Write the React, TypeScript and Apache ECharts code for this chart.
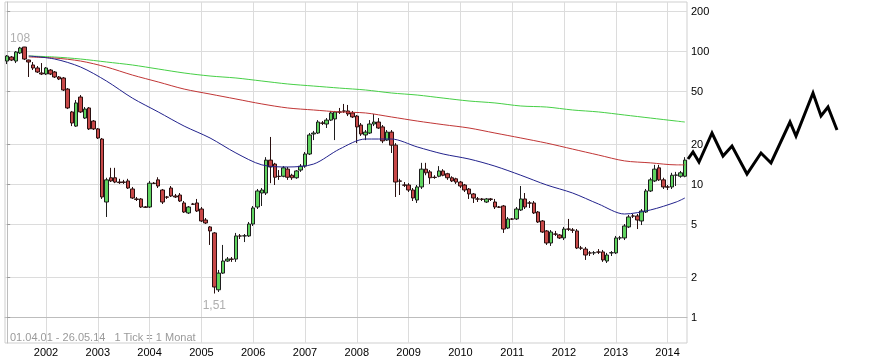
import React, { useEffect, useRef } from 'react';
import * as echarts from 'echarts';

// ---- data ----
const periodText = '01.04.01 - 26.05.14   1 Tick = 1 Monat';
const yearLabels = ['2002', '2003', '2004', '2005', '2006', '2007', '2008', '2009', '2010', '2011', '2012', '2013', '2014'];
// month index (0 = April 2001) of each January
const januaryIndex = [9, 21, 33, 45, 57, 69, 81, 93, 105, 117, 129, 141, 153];
const priceTicks = [1, 2, 5, 10, 20, 50, 100, 200];
const priceRange = [0.641, 234.8];

const opens = [
  84.5, 90.6, 84.5, 97.1, 107.7, 86.0, 78.9, 74.9, 68.7, 67.5,
  72.3, 69.9, 64.1, 63.0, 52.0, 35.0, 27.4, 45.3, 31.5, 37.5,
  29.9, 26.1, 21.9, 7.36, 11.2, 11.2, 10.4, 10.4, 10.6, 9.22,
  7.76, 7.76, 6.75, 6.75, 10.2, 10.8, 9.06, 8.03, 9.38, 8.17,
  8.31, 7.24, 6.09, 7.11, 7.24, 6.52, 5.39, 4.78, 4.31, 1.61,
  2.15, 2.65, 2.74, 2.74, 4.09, 4.09, 4.09, 5.03, 6.75, 8.60,
  8.60, 15.2, 14.2, 11.5, 11.5, 13.0, 11.7, 11.2, 12.8, 13.7,
  16.9, 23.9, 24.3, 28.9, 28.4, 30.4, 31.0, 35.0, 35.6, 35.6,
  34.4, 32.6, 27.9, 23.5, 24.3, 28.4, 29.4, 27.0, 21.5, 24.7,
  19.7, 10.6, 9.88, 9.88, 9.06, 7.62, 9.55, 13.0, 12.4, 11.3,
  11.5, 12.6, 12.0, 11.2, 11.0, 10.4, 9.88, 9.22, 8.46, 7.76,
  7.76, 7.36, 7.76, 7.36, 6.75, 6.87, 4.69, 5.49, 5.49, 6.41,
  7.76, 7.24, 7.24, 6.19, 5.30, 4.46, 3.62, 4.23, 4.16, 3.95,
  4.61, 4.53, 4.46, 3.32, 3.26, 3.05, 3.05, 3.10, 3.10, 2.65,
  3.05, 3.05, 3.95, 3.95, 4.78, 5.78, 5.78, 5.30, 6.19, 8.91,
  10.6, 13.3, 10.8, 9.55, 9.55, 11.7, 11.5, 11.5,
];
const closes = [
  92.2, 86.0, 98.8, 105.9, 87.5, 83.1, 74.9, 69.9, 67.5, 74.9,
  67.5, 64.1, 61.9, 51.2, 37.5, 28.9, 40.9, 35.0, 36.8, 26.1,
  26.1, 22.3, 8.03, 10.8, 10.6, 10.4, 10.3, 10.35, 9.38, 7.89,
  7.70, 6.75, 6.72, 10.2, 10.15, 9.71, 7.36, 8.00, 8.17, 8.03,
  7.49, 6.19, 6.75, 7.08, 6.30, 5.30, 5.12, 4.46, 1.69, 2.15,
  2.65, 2.74, 2.73, 4.09, 4.08, 4.10, 5.03, 6.64, 8.91, 9.06,
  15.2, 13.5, 11.3, 11.45, 13.3, 11.3, 11.2, 12.6, 13.7, 16.9,
  23.5, 24.3, 29.4, 28.8, 30.4, 34.4, 35.0, 34.9, 35.5, 33.8,
  32.1, 27.0, 23.9, 24.7, 28.4, 29.4, 26.5, 21.2, 24.7, 19.7,
  10.4, 10.55, 9.85, 9.06, 7.89, 9.55, 13.0, 12.2, 11.2, 11.25,
  12.6, 11.7, 11.2, 10.6, 10.4, 9.71, 9.06, 8.46, 7.89, 7.74,
  7.70, 7.76, 7.70, 6.75, 6.73, 4.61, 5.49, 5.47, 6.52, 7.76,
  6.75, 7.22, 6.09, 5.21, 4.38, 3.62, 4.38, 4.22, 3.95, 4.61,
  4.60, 4.52, 3.32, 3.31, 2.94, 3.04, 3.06, 3.09, 2.70, 2.94,
  3.06, 3.95, 3.96, 4.86, 5.68, 5.77, 5.39, 6.30, 8.91, 10.8,
  13.0, 10.8, 9.55, 9.53, 11.7, 11.75, 12.2, 15.2,
];
const lows = [
  80.2, 84.5, 81.6, 95.4, 86.0, 64.1, 72.3, 68.7, 66.3, 66.3,
  66.3, 63.0, 60.8, 50.3, 36.8, 27.4, 27.0, 34.4, 31.0, 25.6,
  25.6, 21.9, 7.76, 5.68, 10.4, 10.2, 10.06, 10.06, 9.22, 7.76,
  7.49, 6.64, 6.64, 6.64, 10.06, 9.38, 7.11, 7.76, 8.03, 7.89,
  7.36, 6.09, 5.98, 6.99, 6.19, 5.21, 5.03, 3.50, 1.51, 1.55,
  2.12, 2.61, 2.61, 2.61, 3.88, 3.68, 4.02, 4.86, 6.52, 6.87,
  8.31, 10.2, 9.88, 10.8, 11.3, 10.8, 10.8, 11.0, 12.4, 13.3,
  16.6, 21.5, 23.9, 27.9, 26.5, 29.9, 21.5, 33.8, 34.4, 32.6,
  31.5, 20.4, 23.1, 21.5, 23.9, 27.4, 26.1, 20.4, 21.2, 17.2,
  8.03, 8.31, 9.55, 8.75, 7.49, 7.24, 9.22, 11.7, 10.06, 11.0,
  11.3, 11.5, 10.8, 10.4, 10.06, 9.38, 8.75, 7.76, 7.24, 7.36,
  7.49, 7.24, 7.49, 6.52, 6.64, 4.31, 4.61, 5.39, 5.39, 6.30,
  6.52, 6.64, 5.98, 5.12, 4.31, 3.50, 3.44, 4.09, 3.88, 3.81,
  4.46, 4.31, 3.26, 3.21, 2.70, 2.89, 2.94, 2.99, 2.61, 2.56,
  2.89, 2.99, 3.81, 3.81, 4.69, 5.58, 4.61, 4.94, 6.09, 8.75,
  10.4, 10.6, 9.22, 9.06, 9.22, 9.71, 11.2, 11.3,
];
const highs = [
  93.8, 92.2, 100.5, 108, 107.9, 86.5, 83.1, 77.5, 81.6, 76.2,
  73.6, 71.1, 65.2, 64.1, 52.9, 35.6, 43.0, 46.9, 38.1, 38.1,
  30.4, 26.5, 22.3, 11.2, 13.3, 13.3, 11.0, 10.8, 11.0, 9.55,
  8.03, 7.89, 6.87, 10.6, 10.4, 11.3, 9.22, 8.17, 9.71, 8.46,
  8.60, 7.49, 6.87, 7.24, 7.76, 6.75, 5.58, 4.86, 4.38, 2.27,
  3.50, 2.84, 2.84, 4.31, 4.23, 4.23, 5.21, 6.87, 9.22, 9.38,
  16.0, 22.7, 14.5, 12.8, 13.7, 13.5, 12.0, 12.8, 14.2, 17.5,
  24.3, 25.2, 30.4, 29.9, 31.5, 35.6, 35.6, 37.5, 40.2, 39.5,
  35.6, 33.2, 28.9, 25.6, 30.4, 33.8, 31.5, 27.9, 25.6, 25.6,
  20.4, 11.0, 10.4, 10.2, 9.38, 9.88, 14.5, 14.5, 12.8, 11.7,
  13.7, 13.0, 12.2, 11.5, 11.2, 10.6, 10.06, 9.38, 8.60, 8.03,
  7.89, 7.89, 7.89, 7.76, 6.87, 6.99, 5.68, 5.58, 6.75, 9.71,
  8.60, 7.49, 7.49, 6.30, 5.39, 4.53, 4.53, 4.46, 4.23, 4.78,
  5.49, 4.69, 4.61, 3.44, 3.38, 3.15, 3.15, 3.26, 3.21, 3.05,
  3.15, 4.09, 4.09, 5.03, 5.88, 5.98, 5.98, 6.52, 9.22, 11.2,
  14.0, 14.0, 11.2, 9.88, 12.2, 12.4, 12.6, 16.0,
];

// moving averages, sampled at these month indices
const maMonths = [5, 11, 17, 23, 29, 35, 41, 47, 53, 59, 65, 71, 77, 83, 89, 95, 101, 107, 113, 119, 125, 131, 137, 143, 149, 155, 157];
const maBlue = [92.2, 87.5, 76.2, 59.8, 44.5, 35.0, 27.4, 22.3, 17.2, 14.0, 13.5, 14.2, 18.4, 21.9, 21.9, 19.1, 16.9, 15.5, 13.7, 11.7, 9.88, 8.60, 7.11, 5.98, 6.41, 7.36, 7.89];
const maRed = [90.6, 89.0, 84.5, 76.2, 66.3, 58.8, 52.0, 47.7, 43.8, 40.2, 37.5, 36.2, 35.0, 34.4, 32.1, 29.9, 28.1, 26.5, 24.3, 22.3, 20.4, 18.4, 16.6, 15.0, 14.5, 14.0, 14.0];
const maGreen = [92.2, 90.6, 87.5, 83.1, 78.9, 73.6, 68.7, 65.2, 63.0, 59.8, 56.8, 54.8, 52.9, 51.2, 48.6, 46.9, 44.5, 42.3, 40.9, 38.8, 38.1, 36.2, 35.0, 33.2, 31.5, 29.9, 29.4];

const extremeMonths = [3, 48];
const extremePrices = [108, 1.51];
const extremeLabels = ['108', '1,51'];

// decorative logo zigzag (pixel points)
const logoPoints = [
  [688, 159], [693, 152], [699, 162], [712, 133], [723, 156], [732, 146], [747, 174],
  [761, 153], [771, 163], [790, 122], [796, 136], [813, 93], [821, 116], [828, 107], [837, 130],
];

const FONT = '"Liberation Sans", Arial, Helvetica, sans-serif';
const lg = (v: number) => Math.log10(v);

export default function App() {
  const ref = useRef<HTMLDivElement>(null);
  useEffect(() => {
    if (!ref.current) return;
    const chart = echarts.init(ref.current, null, { renderer: 'svg' });
    const candles = opens.map((o, i) => [i, lg(o), lg(closes[i]), lg(lows[i]), lg(highs[i])]);
    const ma = (arr: number[]) => arr.map((v, k) => [maMonths[k], lg(v)]);
    const tickVals = priceTicks.map(lg);
    chart.setOption({
      animation: false,
      grid: { left: 5, right: 189, top: 2, bottom: 20, show: true, borderColor: '#cfcfcf', borderWidth: 1 },
      xAxis: {
        type: 'value',
        min: -0.5,
        max: opens.length - 0.5,
        axisLine: { show: true, lineStyle: { color: '#bdbdbd' } },
        axisTick: { show: false, customValues: januaryIndex },
        axisLabel: {
          customValues: januaryIndex,
          formatter: (v: number) => yearLabels[januaryIndex.indexOf(Math.round(v))] ?? '',
          color: '#000',
          fontSize: 11,
          fontFamily: FONT,
          margin: 3,
        },
        splitLine: { show: true, lineStyle: { color: '#dcdcdc', width: 1 } },
      },
      yAxis: {
        type: 'value',
        position: 'right',
        min: lg(priceRange[0]),
        max: lg(priceRange[1]),
        axisLine: { show: true, lineStyle: { color: '#bdbdbd' } },
        axisTick: { show: true, length: 3, customValues: tickVals, lineStyle: { color: '#999' } },
        axisLabel: {
          customValues: tickVals,
          formatter: (v: number) => String(Math.round(Math.pow(10, v))),
          color: '#000',
          fontSize: 11,
          fontFamily: FONT,
          margin: 4,
        },
        splitLine: { show: true, lineStyle: { color: '#dcdcdc', width: 1 } },
      },
      series: [
        { type: 'line', data: ma(maGreen), showSymbol: false, smooth: 0.3, silent: true, lineStyle: { color: '#46cf46', width: 1 } },
        { type: 'line', data: ma(maRed), showSymbol: false, smooth: 0.3, silent: true, lineStyle: { color: '#c03636', width: 1 } },
        { type: 'line', data: ma(maBlue), showSymbol: false, smooth: 0.3, silent: true, lineStyle: { color: '#22228c', width: 1 } },
        {
          type: 'candlestick',
          data: candles,
          barWidth: 4,
          silent: true,
          itemStyle: {
            color: '#5fd35f',
            color0: '#c84848',
            borderColor: '#1e1e1e',
            borderColor0: '#2a1010',
            borderWidth: 1,
          },
        },
        {
          type: 'scatter',
          silent: true,
          symbolSize: 1,
          itemStyle: { color: 'rgba(0,0,0,0)' },
          data: extremeMonths.map((m, k) => ({
            value: [m, lg(extremePrices[k])],
            label: {
              show: true,
              formatter: extremeLabels[k],
              position: k === 0 ? 'top' : 'bottom',
              distance: k === 0 ? 2 : 5,
              color: '#9a9a9a',
              fontSize: 12,
              fontFamily: FONT,
            },
          })),
        },
      ],
      graphic: [
        {
          type: 'polyline',
          shape: { points: logoPoints },
          style: { stroke: '#000', lineWidth: 3, fill: 'none' },
          silent: true,
        },
        {
          type: 'text',
          left: 10,
          top: 331,
          style: { text: periodText, fill: '#9a9a9a', font: `11px ${FONT}` },
          silent: true,
        },
      ],
    });
    return () => chart.dispose();
  }, []);
  return <div ref={ref} style={{ position: 'fixed', left: 0, top: 0, width: 876, height: 363 }} />;
}
